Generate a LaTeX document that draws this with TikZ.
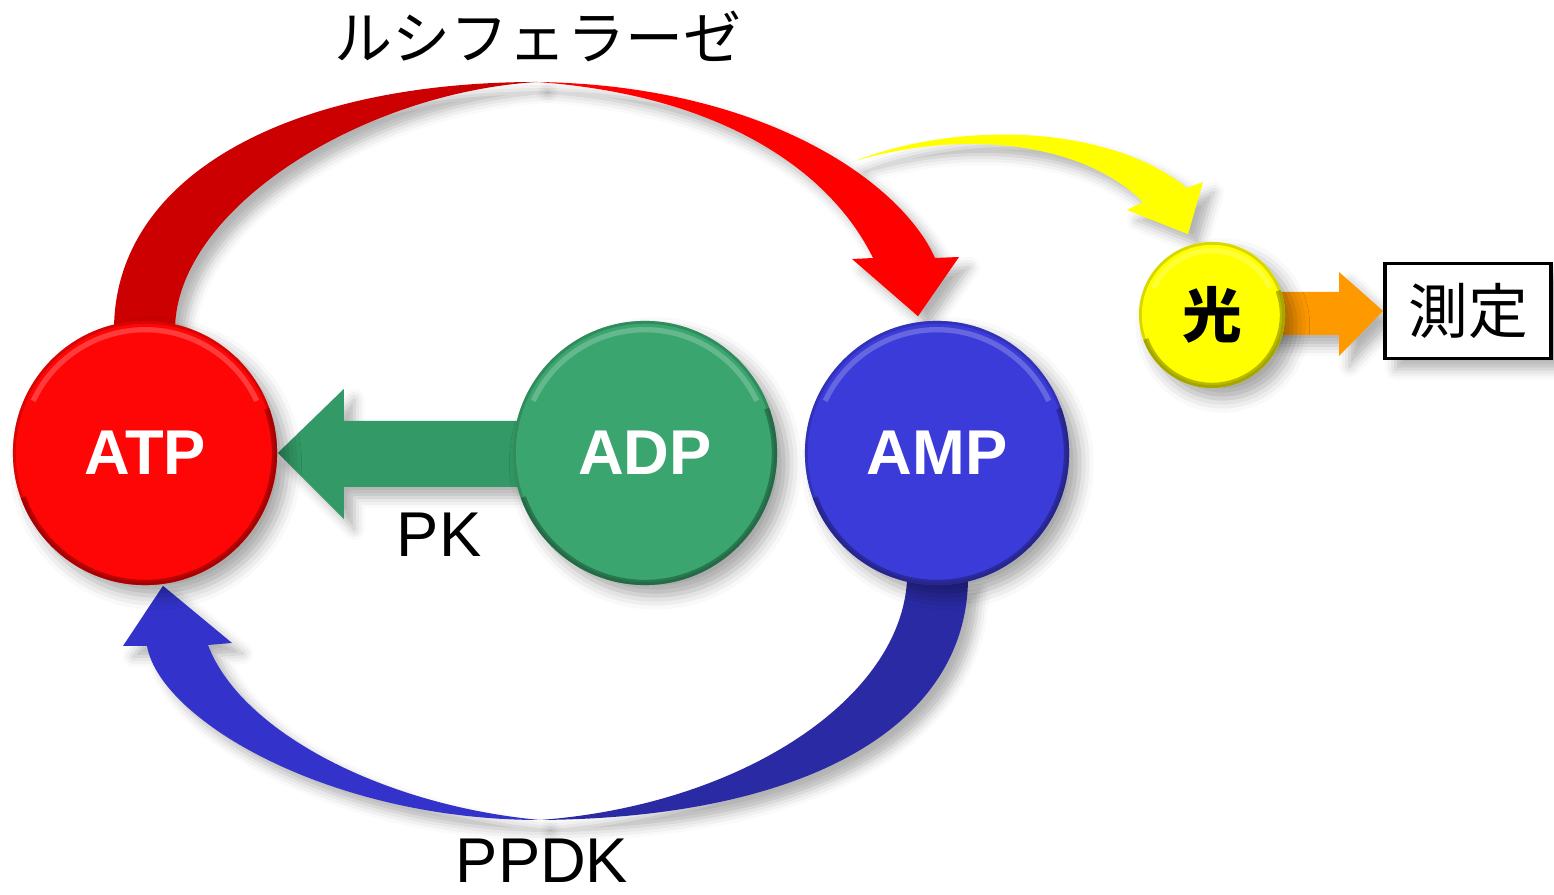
\documentclass[tikz,border=0pt]{standalone}
\usepackage{fontspec}
\setmainfont{Liberation Sans}
\newfontfamily\jpfont{Noto Sans CJK JP}
\usetikzlibrary{calc,shadows.blur}
\pgfdeclarelayer{back}
\pgfsetlayers{back,main}
\definecolor{atpred}{RGB}{255,6,6}
\definecolor{lucdark}{RGB}{204,0,0}
\definecolor{lucred}{RGB}{255,0,0}
\definecolor{adpgreen}{RGB}{58,165,110}
\definecolor{pkgreen}{RGB}{51,153,102}
\definecolor{ampblue}{RGB}{59,59,217}
\definecolor{ppdkblue}{RGB}{51,51,204}
\definecolor{ppdkdark}{RGB}{42,42,165}
\definecolor{lightyel}{RGB}{255,255,0}
\definecolor{measorange}{RGB}{255,153,0}
\begin{document}
\begin{tikzpicture}[x=0.01cm, y=-0.01cm,
  ball/.style 2 args={circle, inner sep=0pt, minimum size=#2, fill=#1, text=white,
    blur shadow={shadow xshift=3pt, shadow yshift=-3pt, shadow blur radius=4pt, shadow opacity=35},
    path picture={
      \draw[#1!75!black, opacity=.6, line width=1.6pt] (path picture bounding box.center) circle[radius=0.5*#2];
      \draw[#1!45!black, opacity=.5, line width=3pt] (path picture bounding box.center) ++(200:0.5*#2) arc[start angle=200, end angle=380, radius=0.5*#2];
      \draw[white, opacity=.22, line width=1.5pt] (path picture bounding box.center) ++(155:0.5*#2-2.5pt) arc[start angle=155, end angle=25, radius=0.5*#2-2.5pt];
    }},
  fat/.style={blur shadow={shadow xshift=3pt, shadow yshift=-3pt, shadow blur radius=3pt, shadow opacity=30}},
  mol/.style={font=\fontsize{18}{20}\selectfont\bfseries},
  lbl/.style={font=\fontsize{18}{20}\selectfont},
]
\useasboundingbox (0,0) rectangle (1554,895);
% Nucleotides
\node[ball={atpred}{2.64cm}, mol] (atp) at (145,453) {ATP};
\node[ball={adpgreen}{2.64cm}, mol] (adp) at (645,453) {ADP};
\node[ball={ampblue}{2.64cm}, mol] (amp) at (937,453) {AMP};
% Light and measurement
\node[ball={lightyel}{1.46cm}, text=black, font=\jpfont\bfseries\fontsize{17}{20}\selectfont] (light) at (1212,315) {光};
\node[draw, line width=1.1pt, fill=white, minimum width=1.66cm, minimum height=0.95cm, fat, font=\jpfont\fontsize{17}{20}\selectfont] (meas) at (1468,311) {測定};
% Labels
\node[font=\jpfont\fontsize{16.5}{18}\selectfont] (luci) at (538,36) {ルシフェラーゼ};
\node[lbl] (pk) at (439,535) {PK};
\node[lbl] (ppdk) at (542,861) {PPDK};
\begin{pgfonlayer}{back}
% Luciferase arc, ATP -> AMP
\coordinate (lucitop) at (537,82);
\fill[lucdark, fat] ($(atp.north)+(-31,10)$) .. controls (114,175) and (290,82) .. (lucitop)
  .. controls (360,93) and (175,210) .. ($(atp.north)+(30,10)$) -- cycle;
\fill[lucred, fat] (lucitop) .. controls (760,85) and (900,180) .. (935,258) -- (959,257)
  -- ($(amp.north)+(-19,-4)$) -- (852,259) -- (873,258) .. controls (830,170) and (720,95) .. (lucitop) -- cycle;
% PPDK arc, AMP -> ATP
\coordinate (ppdkbot) at (540,820);
\fill[ppdkdark, fat] ($(amp.south)+(31,-5)$) .. controls (965,730) and (800,818) .. (ppdkbot)
  .. controls (740,805) and (900,700) .. ($(amp.south)+(-30,-5)$) -- cycle;
\fill[ppdkblue, fat] (ppdkbot) .. controls (330,820) and (160,720) .. (147,646) -- (123,646)
  -- ($(atp.south)+(18,0)$) -- (232,643) -- (208,645) .. controls (240,730) and (380,805) .. (ppdkbot) -- cycle;
% PK, ADP -> ATP
\fill[pkgreen, fat] (atp.east) -- ++(66,-64) -- ++(0,32) -- ($(adp.center)+(0,-32)$)
  -- ($(adp.center)+(0,34)$) -- ($(atp.east)+(66,34)$) -- ++(0,32) -- cycle;
% Light from the reaction
\coordinate (lighttail) at (855,161);
\fill[lightyel, fat] (lighttail) .. controls (960,120) and (1110,125) .. (1187,188) -- (1203,182)
  -- ($(light.north)+(-24,-7)$) -- (1127,210) -- (1143,202) .. controls (1080,140) and (960,130) .. (lighttail) -- cycle;
% Light -> measurement
\fill[measorange, fat] ($(light.center)+(0,-23)$) -- ($(meas.west)+(-44,-19)$) -- ($(meas.west)+(-44,-39)$)
  -- (meas.west) -- ($(meas.west)+(-44,45)$) -- ($(meas.west)+(-44,24)$) -- ($(light.center)+(0,20)$) -- cycle;
\end{pgfonlayer}
\end{tikzpicture}
\end{document}
